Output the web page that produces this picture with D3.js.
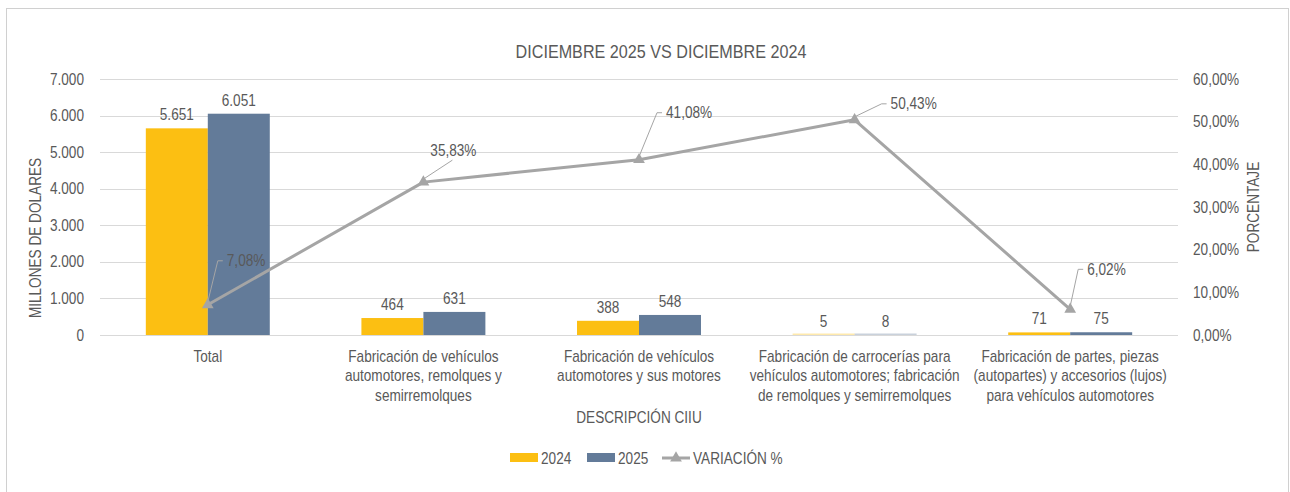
<!DOCTYPE html>
<html>
<head>
<meta charset="utf-8">
<script src="https://cdn.jsdelivr.net/npm/d3@7"></script>
<style>
  body { margin: 0; background: #fff; }
  svg text { font-family: "Liberation Sans Narrow", "Arial Narrow", "Liberation Sans", Arial, sans-serif; fill: #595959; }
</style>
</head>
<body>
<div id="chart"></div>
<script>
// Data
const categories = [
    "Total",
    "Fabricación de vehículos automotores, remolques y semirremolques",
    "Fabricación de vehículos automotores y sus motores",
    "Fabricación de carrocerías para vehículos automotores; fabricación de remolques y semirremolques",
    "Fabricación de partes, piezas (autopartes) y accesorios (lujos) para vehículos automotores"
];
const categoryLines = [
    ["Total"],
    ["Fabricación de vehículos", "automotores, remolques y", "semirremolques"],
    ["Fabricación de vehículos", "automotores y sus motores"],
    ["Fabricación de carrocerías para", "vehículos automotores; fabricación", "de remolques y semirremolques"],
    ["Fabricación de partes, piezas", "(autopartes) y accesorios (lujos)", "para vehículos automotores"]
];
const seriesNames = ["2024", "2025"];
const values2024 = [5651, 464, 388, 5, 71];
const values2025 = [6051, 631, 548, 8, 75];
const variation = [7.08, 35.83, 41.08, 50.43, 6.02];
const leftTicks = [0, 1000, 2000, 3000, 4000, 5000, 6000, 7000];
const rightTicks = [0, 10, 20, 30, 40, 50, 60];

const colors = { "2024": "#FCBF12", "2025": "#637B99", line: "#A5A5A5" };

// Layout
const width = 1290, height = 492;
const plot = { left: 100, right: 1178, top: 79, bottom: 335 };
const narrowFactor = 0.85; // no Arial Narrow installed, squeeze the glyphs

const locale = d3.formatLocale({ decimal: ",", thousands: ".", grouping: [3], currency: ["$", ""] });
const fmtNum = locale.format(",.0f");
const fmtPct = locale.format(".2f");

const svg = d3.select("#chart").append("svg")
    .attr("width", width)
    .attr("height", height);

// chart border
svg.append("rect")
    .attr("x", 6.5).attr("y", 8.5)
    .attr("width", 1282).attr("height", 490)
    .attr("fill", "#fff")
    .attr("stroke", "#D0D0D0");

// Scales
const x0 = d3.scaleBand()
    .domain(categories)
    .range([plot.left, plot.right])
    .paddingInner(0.425)
    .paddingOuter(0.2125);

const x1 = d3.scaleBand()
    .domain(seriesNames)
    .range([0, x0.bandwidth()]);

const yLeft = d3.scaleLinear().domain([0, 7000]).range([plot.bottom, plot.top]);
const yRight = d3.scaleLinear().domain([0, 60]).range([plot.bottom, plot.top]);

const center = c => x0(c) + x0.bandwidth() / 2;

// Gridlines
svg.append("g")
    .selectAll("line")
    .data(leftTicks)
    .join("line")
    .attr("x1", plot.left).attr("x2", plot.right)
    .attr("y1", d => Math.round(yLeft(d)) + 0.5)
    .attr("y2", d => Math.round(yLeft(d)) + 0.5)
    .attr("stroke", "#D9D9D9")
    .attr("stroke-width", 1);

// Left axis
const axisL = svg.append("g")
    .attr("transform", `translate(${plot.left},0)`)
    .call(d3.axisLeft(yLeft).tickValues(leftTicks).tickFormat(fmtNum).tickSize(0).tickPadding(16));
axisL.select(".domain").remove();
axisL.selectAll("text").style("font-size", "16px").attr("fill", "#595959");

// Right axis
const axisR = svg.append("g")
    .attr("transform", `translate(${plot.right},0)`)
    .call(d3.axisRight(yRight).tickValues(rightTicks).tickFormat(d => fmtPct(d) + "%").tickSize(0).tickPadding(15));
axisR.select(".domain").remove();
axisR.selectAll("text").style("font-size", "16px").attr("fill", "#595959");

// Bars
const barData = categories.map((c, i) => ({
    c, items: [
        { k: "2024", v: values2024[i] },
        { k: "2025", v: values2025[i] }
    ]
}));

const groups = svg.append("g")
    .selectAll("g")
    .data(barData)
    .join("g")
    .attr("transform", d => `translate(${x0(d.c)},0)`);

groups.selectAll("rect")
    .data(d => d.items)
    .join("rect")
    .attr("x", d => x1(d.k))
    .attr("width", x1.bandwidth())
    .attr("y", d => Math.min(yLeft(d.v), plot.bottom - 1.5))
    .attr("height", d => Math.max(plot.bottom - yLeft(d.v), 1.5))
    .attr("fill", d => colors[d.k])
    .attr("fill-opacity", d => (plot.bottom - yLeft(d.v)) < 1 ? 0.35 : 1);

groups.selectAll("text")
    .data(d => d.items)
    .join("text")
    .attr("x", d => x1(d.k) + x1.bandwidth() / 2)
    .attr("y", d => yLeft(d.v) - 8)
    .attr("text-anchor", "middle")
    .style("font-size", "16px")
    .text(d => fmtNum(d.v));

// Variation line
const lineGen = d3.line()
    .x((d, i) => center(categories[i]))
    .y(d => yRight(d));

svg.append("path")
    .datum(variation)
    .attr("d", lineGen)
    .attr("fill", "none")
    .attr("stroke", colors.line)
    .attr("stroke-width", 3)
    .attr("stroke-linejoin", "round");

const tri = d3.symbol().type(d3.symbolTriangle).size(60);
svg.append("g")
    .selectAll("path")
    .data(variation)
    .join("path")
    .attr("transform", (d, i) => `translate(${center(categories[i])},${yRight(d)})`)
    .attr("d", tri)
    .attr("fill", colors.line);

// Line labels with leader lines: [dx, dy] of leader end, mode
const labelOffsets = [
    { dx: 10, dy: -44, mode: "side" },
    { dx: 29, dy: -22, mode: "top" },
    { dx: 18, dy: -47, mode: "side" },
    { dx: 27, dy: -16, mode: "side" },
    { dx: 8, dy: -40, mode: "side" }
];

const lbl = svg.append("g")
    .selectAll("g")
    .data(variation)
    .join("g");

lbl.append("path")
    .attr("d", (d, i) => {
        const px = center(categories[i]), py = yRight(d);
        const o = labelOffsets[i];
        const ex = px + o.dx, ey = py + o.dy;
        const p = d3.path();
        p.moveTo(px, py - 3);
        p.lineTo(ex, ey);
        if (o.mode === "side") p.lineTo(ex + 5, ey);
        return p.toString();
    })
    .attr("fill", "none")
    .attr("stroke", colors.line)
    .attr("stroke-width", 1);

lbl.append("text")
    .attr("x", (d, i) => {
        const o = labelOffsets[i];
        return center(categories[i]) + o.dx + (o.mode === "side" ? 9 : 1);
    })
    .attr("y", (d, i) => {
        const o = labelOffsets[i];
        return yRight(d) + o.dy + (o.mode === "side" ? 0 : -4);
    })
    .attr("dy", (d, i) => labelOffsets[i].mode === "side" ? "0.35em" : "0")
    .attr("text-anchor", (d, i) => labelOffsets[i].mode === "side" ? "start" : "middle")
    .style("font-size", "16px")
    .text(d => fmtPct(d) + "%");

// Titles
svg.append("text")
    .attr("x", 661).attr("y", 58)
    .attr("text-anchor", "middle")
    .style("font-size", "19px")
    .text("DICIEMBRE 2025 VS DICIEMBRE 2024");

svg.append("text")
    .attr("x", 639).attr("y", 423)
    .attr("text-anchor", "middle")
    .style("font-size", "16px")
    .text("DESCRIPCIÓN CIIU");

svg.append("text")
    .attr("transform", "translate(41,238) rotate(-90)")
    .attr("text-anchor", "middle")
    .style("font-size", "16px")
    .text("MILLONES DE DOLARES");

svg.append("text")
    .attr("transform", "translate(1259,207) rotate(-90)")
    .attr("text-anchor", "middle")
    .style("font-size", "16px")
    .text("PORCENTAJE");

// Legend
const legend = svg.append("g").attr("transform", "translate(510,458)");
const legendItems = [
    { k: "2024", x: 0, type: "bar" },
    { k: "2025", x: 77, type: "bar" },
    { k: "VARIACIÓN %", x: 152, type: "line" }
];
legendItems.forEach(it => {
    const g = legend.append("g").attr("transform", `translate(${it.x},0)`);
    if (it.type === "bar") {
        g.append("rect")
            .attr("x", 0).attr("y", -5)
            .attr("width", 28).attr("height", 9)
            .attr("fill", colors[it.k]);
    } else {
        g.append("line")
            .attr("x1", 0).attr("x2", 28)
            .attr("y1", 0).attr("y2", 0)
            .attr("stroke", colors.line)
            .attr("stroke-width", 3);
        g.append("path")
            .attr("transform", "translate(14,0)")
            .attr("d", tri)
            .attr("fill", colors.line);
    }
    g.append("text")
        .attr("x", 31).attr("y", 0)
        .attr("dy", "0.35em")
        .style("font-size", "16px")
        .text(it.k);
});

// squeeze every text to look like a narrow face
function squeeze(el) {
    const len = el.getComputedTextLength();
    d3.select(el)
        .attr("textLength", len * narrowFactor)
        .attr("lengthAdjust", "spacingAndGlyphs");
}
svg.selectAll("text").each(function () { squeeze(this); });

// Category labels (squeezed with a transform so their boxes shrink too)
svg.append("g")
    .selectAll("text")
    .data(categories)
    .join("text")
    .attr("transform", d => `translate(${center(d)},362) scale(${narrowFactor},1)`)
    .attr("text-anchor", "middle")
    .style("font-size", "16px")
    .selectAll("tspan")
    .data((d, i) => categoryLines[i])
    .join("tspan")
    .attr("x", 0)
    .attr("dy", (d, i) => i === 0 ? 0 : 19.5)
    .text(d => d);
</script>
</body>
</html>
